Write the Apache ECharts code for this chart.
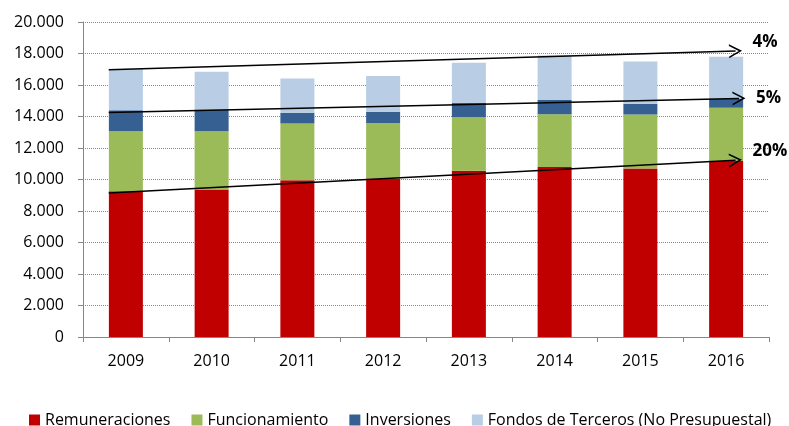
<!DOCTYPE html>
<html lang="es">
<head>
<meta charset="UTF-8">
<title>Gasto por componente 2009-2016</title>
<style>
  html, body { margin: 0; padding: 0; background: #fff; }
</style>
</head>
<body>
<div id="main" style="width: 789px;height:426px;"></div>
<script type="text/javascript" src="https://cdn.jsdelivr.net/npm/echarts@6/dist/echarts.min.js"></script>
<script type="text/javascript">
// años
var years = ['2009', '2010', '2011', '2012', '2013', '2014', '2015', '2016'];
// series
var remuneraciones = [9260, 9370, 9960, 10070, 10550, 10800, 10700, 11170];
var funcionamiento = [3810, 3700, 3600, 3510, 3410, 3350, 3430, 3380];
var inversiones = [1330, 1380, 675, 720, 910, 890, 675, 600];
var fondosTerceros = [2610, 2390, 2185, 2270, 2540, 2840, 2695, 2640];
var seriesNames = ['Remuneraciones', 'Funcionamiento', 'Inversiones', 'Fondos de Terceros (No Presupuestal)'];
// lineas de tendencia: inicio / fin (en indice de año) y etiqueta
var trendX = [[-0.2, 7.11], [-0.2, 7.15], [-0.2, 7.11]];
var trendY = [[16970, 18160], [14260, 15150], [9150, 11230]];
var trendLabels = ['4%', '5%', '20%'];

var colors = ['#C00000', '#9BBB59', '#376092', '#B9CDE5'];
var labelVAlign = ['bottom', 'middle', 'bottom'];
var fontFam = '"Open Sans", "Liberation Sans", sans-serif';

var chart = echarts.init(document.getElementById('main'));

var barSeries = [remuneraciones, funcionamiento, inversiones, fondosTerceros].map(function (vals, i) {
	return {
		name: seriesNames[i],
		type: 'bar',
		stack: 'total',
		barWidth: 34,
		itemStyle: { color: colors[i] },
		data: vals
	};
});

var chevron = 'path://M6,0 L12,11 L10.5,11 L6,2.8 L1.5,11 L0,11 Z';

var trendData = trendLabels.map(function (lab, i) {
	return [
		{ coord: [trendX[i][0], trendY[i][0]] },
		{
			coord: [trendX[i][1], trendY[i][1]],
			label: { formatter: lab, verticalAlign: labelVAlign[i] }
		}
	];
});

var option = {
	backgroundColor: '#fff',
	animation: false,
	grid: { left: 83, right: 20, top: 22, bottom: 89 },
	legend: {
		data: seriesNames,
		left: 29,
		top: 412,
		padding: 0,
		itemWidth: 11,
		itemHeight: 11,
		itemGap: 21,
		icon: 'rect',
		textStyle: { fontFamily: fontFam, fontSize: 16, color: '#000' }
	},
	xAxis: [{
		type: 'category',
		data: years,
		axisLine: { lineStyle: { color: '#868686', width: 1 } },
		axisTick: { show: true, length: 5, lineStyle: { color: '#868686' } },
		axisLabel: { fontFamily: fontFam, fontSize: 16, color: '#000', margin: 16 }
	}, {
		type: 'value',
		min: -0.5,
		max: 7.5,
		show: false
	}],
	yAxis: {
		type: 'value',
		min: 0,
		max: 20000,
		interval: 2000,
		axisLine: { show: true, onZero: false, lineStyle: { color: '#868686', width: 1 } },
		axisTick: { show: true, length: 5, lineStyle: { color: '#868686' } },
		axisLabel: {
			fontFamily: fontFam, fontSize: 16, color: '#000', margin: 19,
			formatter: function (v) { return String(v).replace(/\B(?=(\d{3})+(?!\d))/g, '.'); }
		},
		splitLine: { lineStyle: { color: '#8a8a8a', type: 'dotted', width: 1 } }
	},
	series: barSeries.concat([{
		name: 'tendencia',
		type: 'line',
		xAxisIndex: 1,
		yAxisIndex: 0,
		data: [],
		silent: true,
		markLine: {
			silent: true,
			symbol: ['none', chevron],
			symbolSize: [14, 13],
			lineStyle: { color: '#000', width: 1.5, type: 'solid' },
			label: {
				show: true,
				position: 'end',
				distance: 17,
				fontFamily: fontFam,
				fontSize: 17,
				fontWeight: 'bold',
				color: '#000'
			},
			data: trendData
		}
	}])
};

chart.setOption(option);
</script>
</body>
</html>
